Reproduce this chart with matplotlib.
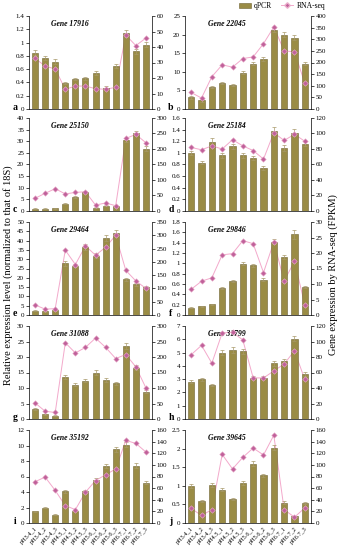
import numpy as np
import matplotlib
matplotlib.use("Agg")
import matplotlib.pyplot as plt
from matplotlib.lines import Line2D
from matplotlib.patches import Patch

plt.rcParams['font.family'] = ['Liberation Serif', 'DejaVu Serif']

samples = ["pH3.4_1", "pH3.4_2", "pH3.4_3", "pH4.5_1", "pH4.5_2", "pH4.5_3",
           "pH5.6_1", "pH5.6_2", "pH5.6_3", "pH6.7_1", "pH6.7_2", "pH6.7_3"]

genes = ["17916", "22045", "25150", "25184", "29464",
         "29846", "31088", "31799", "35192", "39645"]
letters = ["a", "b", "c", "d", "e", "f", "g", "h", "i", "j"]

qpcr_17916 = [0.85, 0.77, 0.71, 0.39, 0.45, 0.46, 0.54, 0.32, 0.65, 1.14, 0.87, 0.97]
qpcr_22045 = [3.1, 2.3, 5.9, 7.0, 6.5, 9.8, 12.2, 13.5, 21.2, 20.0, 19.2, 12.2]
qpcr_25150 = [1.0, 1.0, 1.2, 3.2, 6.0, 8.3, 1.5, 2.3, 2.0, 30.5, 33.5, 26.8]
qpcr_25184 = [1.0, 0.83, 1.19, 0.96, 1.11, 0.96, 0.91, 0.74, 1.38, 1.08, 1.35, 1.16]
qpcr_29464 = [2.3, 2.1, 2.5, 27.7, 26.6, 36.6, 31.8, 41.4, 44.3, 19.1, 16.4, 14.8]
qpcr_29846 = [0.14, 0.17, 0.21, 0.52, 0.65, 0.99, 0.96, 0.68, 1.42, 1.13, 1.56, 0.55]
qpcr_31088 = [3.1, 1.5, 1.1, 13.6, 11.1, 12.3, 15.0, 12.6, 11.5, 23.6, 16.6, 8.8]
qpcr_31799 = [2.8, 2.98, 2.55, 4.98, 5.2, 5.1, 3.1, 3.1, 4.2, 4.35, 6.05, 3.4]
qpcr_35192 = [1.5, 2.0, 1.07, 4.07, 1.6, 4.1, 5.6, 7.4, 9.5, 10.1, 7.4, 5.2]
qpcr_39645 = [1.0, 0.6, 1.02, 0.9, 0.65, 1.07, 1.59, 1.28, 2.02, 0.55, 0.18, 0.54]

err_17916 = [0.04, 0.03, 0.04, 0.02, 0.02, 0.02, 0.03, 0.02, 0.03, 0.05, 0.04, 0.04]
err_22045 = [0.3, 0.3, 0.3, 0.3, 0.3, 0.4, 0.5, 0.5, 0.5, 0.6, 0.7, 0.4]
err_25150 = [0.2, 0.2, 0.2, 0.3, 0.4, 0.4, 0.2, 0.3, 0.2, 1.0, 0.9, 1.0]
err_25184 = [0.04, 0.03, 0.06, 0.04, 0.04, 0.04, 0.04, 0.03, 0.06, 0.05, 0.06, 0.04]
err_29464 = [0.4, 0.3, 0.4, 1.3, 1.0, 1.6, 1.4, 1.5, 1.4, 0.8, 0.7, 0.6]
err_29846 = [0.01, 0.01, 0.01, 0.02, 0.02, 0.03, 0.03, 0.03, 0.05, 0.04, 0.08, 0.02]
err_31088 = [0.3, 0.2, 0.2, 0.6, 0.5, 0.5, 0.7, 0.6, 0.5, 1.0, 0.7, 0.4]
err_31799 = [0.1, 0.12, 0.1, 0.2, 0.2, 0.2, 0.12, 0.12, 0.18, 0.15, 0.2, 0.15]
err_35192 = [0.08, 0.1, 0.06, 0.15, 0.1, 0.18, 0.2, 0.25, 0.3, 0.3, 0.3, 0.2]
err_39645 = [0.05, 0.03, 0.05, 0.04, 0.03, 0.05, 0.07, 0.05, 0.07, 0.03, 0.02, 0.03]

rna_17916 = [32.7, 27.7, 25.8, 12.7, 14.8, 14.8, 13.1, 12.7, 14.0, 47.7, 40.9, 45.8]
rna_22045 = [71, 47, 139, 190, 180, 217, 224, 281, 353, 250, 246, 111]
rna_25150 = [41, 57, 72, 55, 60, 62, 19, 26, 17, 234, 247, 220]
rna_25184 = [82, 79, 84, 80, 92, 84, 78, 67, 101, 91, 99, 90]
rna_29464 = [38, 22, 24, 244, 190, 260, 225, 255, 300, 168, 128, 100]
rna_29846 = [8.3, 10.9, 12.0, 19.4, 19.8, 24.0, 23.0, 13.7, 23.5, 11.0, 17.3, 3.3]
rna_31088 = [52, 25, 21, 246, 213, 231, 261, 231, 195, 208, 168, 100]
rna_31799 = [83, 95, 72, 111, 112, 102, 53, 53, 62, 71, 88, 51]
rna_35192 = [71, 79, 56, 30, 23, 53, 73, 83, 93, 142, 137, 122]
rna_39645 = [25, 13, 23, 118, 93, 113, 129, 117, 151, 23, 10, 26]

qpcr = [qpcr_17916, qpcr_22045, qpcr_25150, qpcr_25184, qpcr_29464,
        qpcr_29846, qpcr_31088, qpcr_31799, qpcr_35192, qpcr_39645]
errs = [err_17916, err_22045, err_25150, err_25184, err_29464,
        err_29846, err_31088, err_31799, err_35192, err_39645]
rnas = [rna_17916, rna_22045, rna_25150, rna_25184, rna_29464,
        rna_29846, rna_31088, rna_31799, rna_35192, rna_39645]

# (left max, left step, right max, right step)
scales = [(1.4, 0.2, 60, 10), (25, 5, 400, 50), (40, 5, 300, 50), (1.6, 0.2, 120, 20),
          (50, 5, 350, 50), (1.8, 0.2, 30, 5), (30, 5, 300, 50), (7, 1, 120, 20),
          (12, 2, 160, 20), (2.5, 0.5, 160, 20)]

W, H = 339, 550
fig = plt.figure(figsize=(W / 100, H / 100), dpi=100)

col_left = [29, 185]
col_width = [123, 126]
row_top = [16, 118, 222, 326, 430]
row_h = 93

bar_col = '#9a8c45'
line_col = '#f3a9cb'
mk_face = '#c0609a'
mk_edge = '#eab0cc'
x = np.arange(len(samples))

for k in range(10):
    r, c = divmod(k, 2)
    rect = [col_left[c] / W, 1 - (row_top[r] + row_h) / H, col_width[c] / W, row_h / H]
    lmax, lstep, rmax, rstep = scales[k]

    # right axis (line) sits behind the bars
    ax2 = fig.add_axes(rect)
    ax2.plot(x, rnas[k], color=line_col, linewidth=0.7)
    ax2.set_xlim(-0.6, 11.6)
    ax2.set_ylim(0, rmax)
    ax2.yaxis.tick_right()
    ax2.set_yticks(np.arange(0, rmax + 1, rstep))
    ax2.set_xticks([])
    ax2.tick_params(axis='y', labelsize=5, length=2, width=0.5, pad=1.5)
    ax2.spines['top'].set_visible(False)
    ax2.spines['left'].set_visible(False)
    ax2.spines['bottom'].set_visible(False)
    ax2.spines['right'].set_linewidth(0.5)

    ax = fig.add_axes(rect)
    ax.patch.set_visible(False)
    ax.bar(x, qpcr[k], width=0.6, color=bar_col, edgecolor='#6e6230', linewidth=0.4,
           yerr=errs[k], error_kw=dict(ecolor='#a89a6a', elinewidth=0.5, capsize=1.2, capthick=0.5))
    ax.set_xlim(-0.6, 11.6)
    ax.set_ylim(0, lmax)
    ticks = np.arange(0, lmax + lstep / 2, lstep)
    ax.set_yticks(ticks)
    ax.set_yticklabels(['%g' % round(v, 2) for v in ticks])
    ax.tick_params(axis='y', labelsize=5, length=2, width=0.5, pad=1.5)
    ax.spines['top'].set_visible(False)
    ax.spines['right'].set_visible(False)
    for s in ['left', 'bottom']:
        ax.spines[s].set_linewidth(0.5)
    ax.set_xticks(x)
    if r == 4:
        ax.set_xticklabels(samples, rotation=45, ha='right', rotation_mode='anchor', fontsize=4.5)
        ax.tick_params(axis='x', length=0, pad=2)
    else:
        ax.set_xticklabels([])
        ax.tick_params(axis='x', length=0)

    # markers on top of the bars
    ax3 = fig.add_axes(rect)
    ax3.patch.set_visible(False)
    ax3.plot(x, rnas[k], linestyle='none', marker='D', markersize=2.8,
             markerfacecolor=mk_face, markeredgecolor=mk_edge, markeredgewidth=0.4)
    ax3.set_xlim(-0.6, 11.6)
    ax3.set_ylim(0, rmax)
    ax3.axis('off')

    ax.text(0.33, 0.96, 'Gene ' + genes[k], transform=ax.transAxes, ha='center', va='top',
            fontsize=5.5, fontweight='bold', fontstyle='italic')
    fig.text((col_left[c] - 14) / W, 1 - (row_top[r] + row_h - 1) / H, letters[k],
             ha='center', va='center', fontsize=7, fontweight='bold')

fig.text(8 / W, 0.5, 'Relative expression level (normalized to that of 18S)',
         rotation=90, ha='center', va='center', fontsize=7.5)
fig.text(333 / W, 0.5, 'Gene expression by RNA-seq (FPKM)',
         rotation=90, ha='center', va='center', fontsize=7.5)

handles = [Patch(facecolor=bar_col, edgecolor='#6e6230', linewidth=0.4),
           Line2D([0], [0], color=line_col, linewidth=0.7, marker='D', markersize=2.8,
                  markerfacecolor=mk_face, markeredgecolor=mk_edge)]
fig.legend(handles, ['qPCR', 'RNA-seq'], loc='center', bbox_to_anchor=(282 / W, 1 - 6 / H),
           ncol=2, frameon=False, fontsize=5.5, handlelength=1.6, handleheight=0.6,
           columnspacing=1.2, handletextpad=0.4)

fig.savefig('out.png', dpi=100)
